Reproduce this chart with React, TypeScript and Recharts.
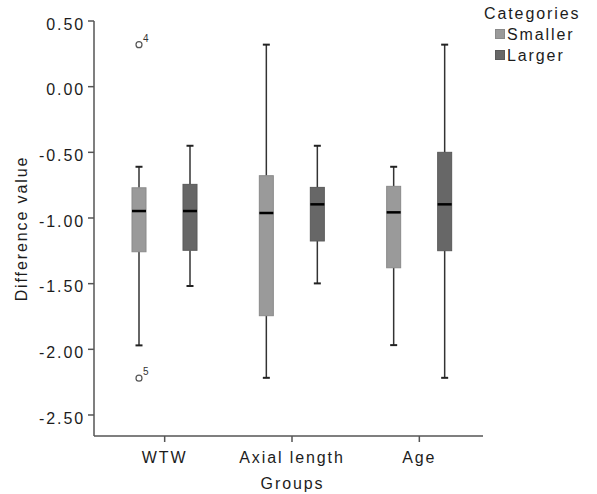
import { ComposedChart, Bar, XAxis, YAxis, Label } from 'recharts';

const groups = ['WTW', 'Axial length', 'Age'];

// each entry: [whisker low, Q1, median, Q3, whisker high]
const smallerStats = [
  [-1.97, -1.257, -0.947, -0.77, -0.61],
  [-2.217, -1.744, -0.962, -0.678, 0.32],
  [-1.968, -1.379, -0.957, -0.759, -0.61],
];
const largerStats = [
  [-1.518, -1.246, -0.947, -0.744, -0.45],
  [-1.498, -1.175, -0.896, -0.767, -0.45],
  [-2.217, -1.249, -0.896, -0.5, 0.32],
];

const smallerOutliers = [
  [
    { value: 0.32, label: '4' },
    { value: -2.22, label: '5' },
  ],
  [],
  [],
];
const largerOutliers = [[], [], []];

const yTicks = [0.5, 0, -0.5, -1, -1.5, -2, -2.5];

const SMALLER_FILL = '#9a9a9a';
const SMALLER_EDGE = '#8a8a8a';
const LARGER_FILL = '#676767';
const LARGER_EDGE = '#5a5a5a';
const AXIS = '#555555';
const TEXT = '#1c1c1c';
const FONT = '"Liberation Sans", Arial, sans-serif';

const data = groups.map((group, i) => ({
  group,
  smaller: [smallerStats[i][0], smallerStats[i][4]],
  larger: [largerStats[i][0], largerStats[i][4]],
  smallerStats: smallerStats[i],
  largerStats: largerStats[i],
  smallerOutliers: smallerOutliers[i],
  largerOutliers: largerOutliers[i],
}));

function renderBox(p: any, key: string, fill: string, edge: string) {
  const stats: number[] = p.payload[key + 'Stats'];
  const outliers: { value: number; label: string }[] = p.payload[key + 'Outliers'];
  const [lo, q1, med, q3, hi] = stats;
  const top = Math.min(p.y, p.y + p.height);
  const bottom = Math.max(p.y, p.y + p.height);
  const k = (bottom - top) / (hi - lo);
  const py = (v: number) => top + (hi - v) * k;
  const cx = p.x + p.width / 2;
  const cap = 3.5;

  return (
    <g>
      <line x1={cx} x2={cx} y1={py(hi)} y2={py(q3)} stroke="#333" strokeWidth={1.5} />
      <line x1={cx} x2={cx} y1={py(q1)} y2={py(lo)} stroke="#333" strokeWidth={1.5} />
      <line x1={cx - cap} x2={cx + cap} y1={py(hi)} y2={py(hi)} stroke="#222" strokeWidth={2} />
      <line x1={cx - cap} x2={cx + cap} y1={py(lo)} y2={py(lo)} stroke="#222" strokeWidth={2} />
      <rect x={p.x} y={py(q3)} width={p.width} height={py(q1) - py(q3)} fill={fill} stroke={edge} strokeWidth={1} />
      <line x1={p.x} x2={p.x + p.width} y1={py(med)} y2={py(med)} stroke="#000" strokeWidth={2.5} />
      {outliers.map((o) => (
        <g key={o.label}>
          <circle cx={cx} cy={py(o.value)} r={3} fill="#fff" stroke="#555" strokeWidth={1.2} />
          <text x={cx + 4} y={py(o.value) - 3} fontSize={10} fill="#333" style={{ letterSpacing: 0 }}>
            {o.label}
          </text>
        </g>
      ))}
    </g>
  );
}

export default function App() {
  return (
    <div
      style={{
        position: 'absolute',
        left: 0,
        top: 0,
        width: 597,
        height: 494,
        background: '#fff',
        fontFamily: FONT,
        letterSpacing: 1.9,
        color: TEXT,
      }}
    >
      <ComposedChart
        width={597}
        height={494}
        data={data}
        margin={{ top: 21, right: 114, bottom: 0, left: 0 }}
        barSize={14}
        barGap={37}
      >
        <XAxis
          dataKey="group"
          height={58}
          interval={0}
          padding={{ left: 7, right: 0 }}
          tickSize={6}
          tickMargin={10}
          tick={{ fontSize: 16, fill: TEXT }}
          axisLine={{ stroke: AXIS, strokeWidth: 1.5 }}
          tickLine={{ stroke: AXIS, strokeWidth: 1.5 }}
        >
          <Label
            content={({ viewBox }: any) => (
              <text
                x={viewBox.x + viewBox.width / 2 + 4}
                y={viewBox.y + 53}
                textAnchor="middle"
                fontSize={16}
                fill={TEXT}
              >
                Groups
              </text>
            )}
          />
        </XAxis>
        <YAxis
          type="number"
          width={94}
          domain={[-2.66, 0.5]}
          allowDataOverflow
          ticks={yTicks}
          tickFormatter={(v: number) => v.toFixed(2)}
          tickSize={6}
          tickMargin={3}
          tick={{ fontSize: 16, fill: TEXT, dy: 3 }}
          axisLine={{ stroke: AXIS, strokeWidth: 1.5 }}
          tickLine={{ stroke: AXIS, strokeWidth: 1.5 }}
        >
          <Label
            content={({ viewBox }: any) => {
              const x = viewBox.x + 27;
              const y = viewBox.y + viewBox.height / 2;
              return (
                <text x={x} y={y} transform={`rotate(-90, ${x}, ${y})`} textAnchor="middle" fontSize={16} fill={TEXT}>
                  Difference value
                </text>
              );
            }}
          />
        </YAxis>
        <Bar
          dataKey="smaller"
          name="Smaller"
          isAnimationActive={false}
          shape={(p: any) => renderBox(p, 'smaller', SMALLER_FILL, SMALLER_EDGE)}
        />
        <Bar
          dataKey="larger"
          name="Larger"
          isAnimationActive={false}
          shape={(p: any) => renderBox(p, 'larger', LARGER_FILL, LARGER_EDGE)}
        />
      </ComposedChart>

      <div style={{ position: 'absolute', left: 484, top: 3, fontSize: 16, lineHeight: '21px' }}>
        <div>Categories</div>
        {[
          { name: 'Smaller', fill: SMALLER_FILL, edge: SMALLER_EDGE },
          { name: 'Larger', fill: LARGER_FILL, edge: LARGER_EDGE },
        ].map((item) => (
          <div key={item.name} style={{ display: 'flex', alignItems: 'center', paddingLeft: 11 }}>
            <span
              style={{
                display: 'inline-block',
                width: 8,
                height: 8,
                background: item.fill,
                border: `0.5px solid ${item.edge}`,
                marginRight: 2,
                marginTop: -1,
              }}
            />
            <span>{item.name}</span>
          </div>
        ))}
      </div>
    </div>
  );
}
